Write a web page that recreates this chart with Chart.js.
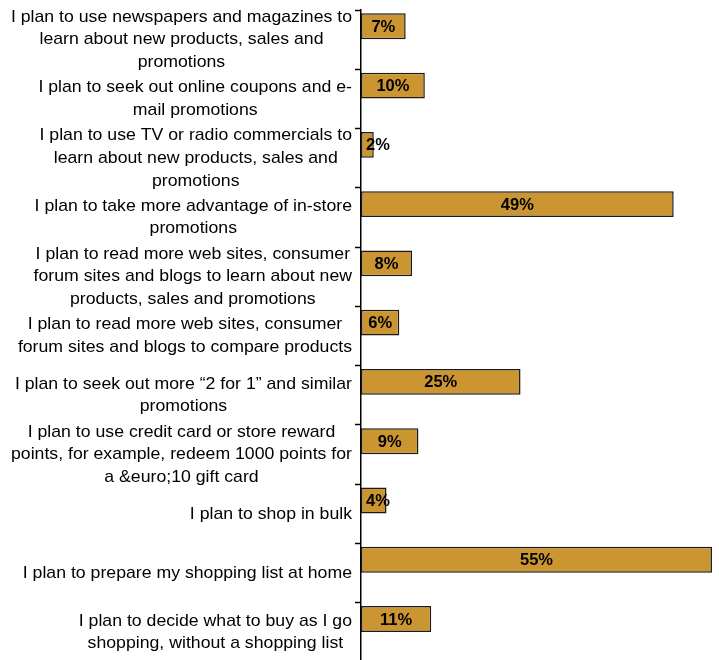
<!DOCTYPE html>
<html>
<head>
<meta charset="utf-8">
<title>Shopping plans</title>
<script src="https://cdn.jsdelivr.net/npm/chart.js@4.4.1/dist/chart.umd.min.js"></script>
<style>
  html, body { margin: 0; padding: 0; background: #fff; overflow: hidden; }
  #wrap { position: relative; width: 719px; height: 664px; }
</style>
</head>
<body>
<div id="wrap"><canvas id="planChart"></canvas></div>
<script>
// Categorias (cada linha do rótulo é um item do array)
const categorias = [
    ["I plan to use newspapers and magazines to", "learn about new products, sales and", "promotions"],
    ["I plan to seek out online coupons and e-", "mail promotions"],
    ["I plan to use TV or radio commercials to", "learn about new products, sales and", "promotions"],
    ["I plan to take more advantage of in-store", "promotions"],
    ["I plan to read more web sites, consumer", "forum sites and blogs to learn about new", "products, sales and promotions"],
    ["I plan to read more web sites, consumer", "forum sites and blogs to compare products"],
    ["I plan to seek out more \u201C2 for 1\u201D and similar", "promotions"],
    ["I plan to use credit card or store reward", "points, for example, redeem 1000 points for", "a &euro;10 gift card"],
    ["I plan to shop in bulk"],
    ["I plan to prepare my shopping list at home"],
    ["I plan to decide what to buy as I go", "shopping, without a shopping list"]
];

// Percentuais de cada resposta
const percentuais = [7, 10, 2, 49, 8, 6, 25, 9, 4, 55, 11];

// Série vazia que ocupa a metade de baixo de cada faixa
const espacador = categorias.map(() => null);

const FONTE = '"Liberation Sans", Arial, sans-serif';
const ESTICA = 1.04; // texto levemente mais largo

// Rótulos das categorias: linhas centralizadas entre si, bloco alinhado à direita
const rotulosPlugin = {
    id: "rotulos",
    afterDraw(chart) {
        const ctx = chart.ctx;
        const y = chart.scales.y;
        const direita = chart.chartArea.left - 9;
        const alturaLinha = 22.7;
        ctx.save();
        ctx.font = "17px " + FONTE;
        ctx.fillStyle = "#000";
        ctx.textAlign = "center";
        ctx.textBaseline = "middle";
        categorias.forEach((linhas, i) => {
            const centroY = y.getPixelForValue(i);
            const larg = Math.max(...linhas.map(l => ctx.measureText(l).width)) * ESTICA;
            const cx = direita - larg / 2;
            linhas.forEach((linha, j) => {
                ctx.save();
                ctx.translate(cx, centroY + (j - (linhas.length - 1) / 2) * alturaLinha);
                ctx.scale(ESTICA, 1);
                ctx.fillText(linha, 0, 0);
                ctx.restore();
            });
        });
        ctx.restore();
    }
};

// Valor em negrito dentro da barra
const valoresPlugin = {
    id: "valores",
    afterDatasetsDraw(chart) {
        const ctx = chart.ctx;
        const meta = chart.getDatasetMeta(0);
        ctx.save();
        ctx.font = "bold 16.5px " + FONTE;
        ctx.fillStyle = "#000";
        ctx.textAlign = "center";
        ctx.textBaseline = "middle";
        meta.data.forEach((bar, i) => {
            const texto = percentuais[i] + "%";
            const w = ctx.measureText(texto).width;
            const x = Math.max((bar.base + bar.x) / 2, bar.base + 5 + w / 2);
            ctx.fillText(texto, x, bar.y + 1);
        });
        ctx.restore();
    }
};

new Chart(document.getElementById("planChart"), {
    type: "bar",
    data: {
        labels: categorias,
        datasets: [
            {
                label: "Percentual",
                data: percentuais,
                backgroundColor: "#CB9632",
                borderColor: "#1a1a1a",
                borderWidth: 1.5,
                borderSkipped: false,
                categoryPercentage: 0.9,
                barPercentage: 0.97
            },
            {
                label: "",
                data: espacador,
                categoryPercentage: 0.9,
                barPercentage: 0.97
            }
        ]
    },
    options: {
        indexAxis: "y",
        responsive: true,
        maintainAspectRatio: false,
        animation: false,
        layout: { padding: { top: 10, right: 0, bottom: 2, left: 0 } },
        scales: {
            x: {
                display: false,
                min: 0,
                max: 56.1
            },
            y: {
                position: "left",
                afterFit(scale) { scale.width = 361; },
                ticks: { display: false },
                grid: {
                    drawOnChartArea: false,
                    drawTicks: true,
                    tickLength: 6,
                    tickWidth: 1.5,
                    color: "#000"
                },
                border: { display: true, color: "#000", width: 1.5 }
            }
        },
        plugins: {
            legend: { display: false },
            tooltip: { enabled: false }
        }
    },
    plugins: [rotulosPlugin, valoresPlugin]
});
</script>
</body>
</html>
